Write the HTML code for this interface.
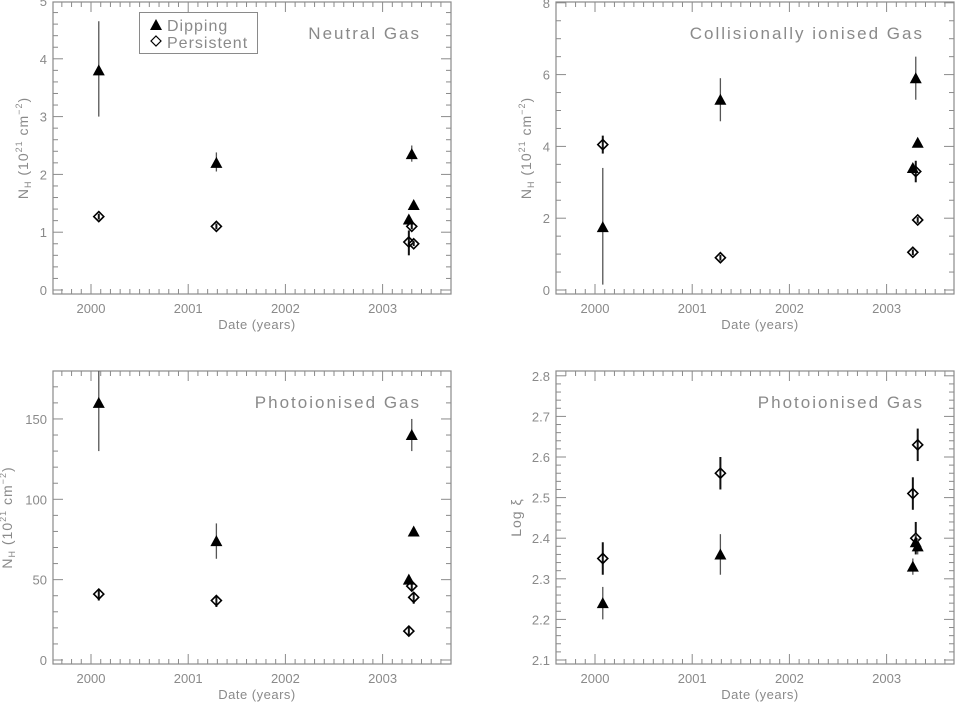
<!DOCTYPE html>
<html><head><meta charset="utf-8"><style>
html,body{margin:0;padding:0;background:#fff;}
svg{display:block;font-family:"Liberation Sans",sans-serif;}
</style></head><body>
<svg id="fig" width="955" height="703" viewBox="0 0 955 703"></svg>
<script>
const xDates = [2000.08, 2001.29, 2003.27, 2003.30, 2003.32];
const p1Dip = [3.8, 2.2, 1.22, 2.35, 1.47];
const p1DipLo = [3.0, 2.05, 1.22, 2.22, 1.47];
const p1DipHi = [4.65, 2.38, 1.22, 2.5, 1.47];
const p1Per = [1.27, 1.1, 0.83, 1.1, 0.8];
const p1PerLo = [1.22, 1.05, 0.6, 1.05, 0.76];
const p1PerHi = [1.32, 1.15, 1.03, 1.15, 0.84];
const p2Dip = [1.75, 5.3, 3.4, 5.9, 4.1];
const p2DipLo = [0.15, 4.7, 3.3, 5.3, 4.0];
const p2DipHi = [3.4, 5.9, 3.5, 6.5, 4.2];
const p2Per = [4.05, 0.9, 1.05, 3.3, 1.95];
const p2PerLo = [3.8, 0.82, 0.97, 3.0, 1.87];
const p2PerHi = [4.3, 0.98, 1.13, 3.6, 2.03];
const p3Dip = [160, 74, 50, 140, 80];
const p3DipLo = [130, 63, 47, 130, 78];
const p3DipHi = [185, 85, 53, 150, 82];
const p3Per = [41, 37, 18, 46, 39];
const p3PerLo = [37, 33, 15, 43, 35];
const p3PerHi = [44, 40, 21, 49, 42];
const p4Dip = [2.24, 2.36, 2.33, 2.39, 2.38];
const p4DipLo = [2.2, 2.31, 2.31, 2.37, 2.36];
const p4DipHi = [2.28, 2.41, 2.35, 2.41, 2.40];
const p4Per = [2.35, 2.56, 2.51, 2.40, 2.63];
const p4PerLo = [2.31, 2.52, 2.47, 2.36, 2.59];
const p4PerHi = [2.39, 2.60, 2.55, 2.44, 2.67];
const xTickLabels = ["2000", "2001", "2002", "2003"];
const p1YTicks = ["0", "1", "2", "3", "4", "5"];
const p2YTicks = ["0", "2", "4", "6", "8"];
const p3YTicks = ["0", "50", "100", "150"];
const p4YTicks = ["2.1", "2.2", "2.3", "2.4", "2.5", "2.6", "2.7", "2.8"];

const NS = "http://www.w3.org/2000/svg";
const svg = document.getElementById('fig');
const AX = "#8a8a8a";
function mk(tag, attrs, parent) {
  const e = document.createElementNS(NS, tag);
  for (const k in attrs) e.setAttribute(k, attrs[k]);
  (parent || svg).appendChild(e);
  return e;
}
function panel(cfg) {
  const g = mk('g', {});
  
  
  const L = cfg.L, R = cfg.R, T = cfg.T, B = cfg.B;
  const xs = v => cfg.x2000 + (v - 2000) * 97.2;
  const ys = v => cfg.y0 + (v - cfg.v0) * cfg.k;
  const frame = mk('rect', {x: L, y: T, width: R - L, height: B - T, fill: 'none', stroke: AX, 'stroke-width': 1.2}, g);
  
  
  for (let i = -4; i <= 37; i++) {
    const v = 2000 + i / 10, x = xs(v);
    if (x <= L + 0.5 || x >= R - 0.5) continue;
    const len = i % 10 === 0 ? 10 : 5;
    mk('line', {x1: x, y1: B, x2: x, y2: B - len, stroke: AX, 'stroke-width': 1}, g);
    mk('line', {x1: x, y1: T, x2: x, y2: T + len, stroke: AX, 'stroke-width': 1}, g);
  }
  xTickLabels.forEach((t, i) => {
    const tx = mk('text', {x: xs(+t), y: B + 19, 'font-size': 13, fill: AX, 'text-anchor': 'middle'}, g);
    tx.textContent = t;
    
    
  });
  const nMaj = cfg.yt.length;
  for (let j = 0; j < nMaj; j++) {
    for (let m = 0; m < cfg.minor; m++) {
      const v = +cfg.yt[0] + (j + m / cfg.minor) * cfg.step;
      const y = ys(v);
      if (y < T + 0.5 || y > B - 0.5) continue;
      const len = m === 0 ? 10 : 5;
      mk('line', {x1: L, y1: y, x2: L + len, y2: y, stroke: AX, 'stroke-width': 1}, g);
      mk('line', {x1: R, y1: y, x2: R - len, y2: y, stroke: AX, 'stroke-width': 1}, g);
    }
    const yl = mk('text', {x: L - 6, y: ys(+cfg.yt[j]) + 5, 'font-size': 13, fill: AX, 'text-anchor': 'end'}, g);
    yl.textContent = cfg.yt[j];
    
    
  }
  const xt = mk('text', {x: (L + R) / 2 + 5, y: B + 35, 'font-size': 13, fill: AX, 'text-anchor': 'middle', 'letter-spacing': '0.5'}, g);
  xt.textContent = 'Date (years)';
  
  
  const ytg = mk('text', {transform: `translate(${cfg.ytx},${(T + B) / 2}) rotate(-90)`, 'font-size': 14, fill: AX, 'text-anchor': 'middle', 'letter-spacing': '1'}, g);
  
  
  if (cfg.logxi) {
    ytg.textContent = 'Log ξ';
  } else {
    ytg.innerHTML = 'N<tspan font-size="9" dy="3">H</tspan><tspan dy="-3"> (10</tspan><tspan font-size="9" dy="-6">21</tspan><tspan dy="6"> cm</tspan><tspan font-size="9" dy="-6">−2</tspan><tspan dy="6">)</tspan>';
  }
  const tt = mk('text', {x: R - 30, y: T + 37, 'font-size': 17, fill: AX, 'text-anchor': 'end', 'letter-spacing': '2'}, g);
  tt.textContent = cfg.title;
  
  
  function series(vals, lo, hi, kind) {
    vals.forEach((v, i) => {
      const x = xs(xDates[i]);
      if (hi[i] !== lo[i]) {
        const eb = mk('line', {x1: x, y1: Math.max(ys(hi[i]), T), x2: x, y2: ys(lo[i]), stroke: kind === 'dip' ? '#555' : '#111', 'stroke-width': kind === 'dip' ? 1.3 : 2}, g);
        
        
      }
      const y = ys(v);
      let m;
      if (kind === 'dip') {
        m = mk('polygon', {points: `${x},${y - 6} ${x - 6},${y + 5} ${x + 6},${y + 5}`, fill: '#000'}, g);
      } else {
        m = mk('polygon', {points: `${x},${y - 5} ${x + 5},${y} ${x},${y + 5} ${x - 5},${y}`, fill: 'none', stroke: '#000', 'stroke-width': 1.6}, g);
      }
      
      
    });
  }
  series(cfg.per, cfg.perLo, cfg.perHi, 'per');
  series(cfg.dip, cfg.dipLo, cfg.dipHi, 'dip');
  return g;
}
const g1 = panel({name: 'panel-neutral-gas', L: 53, R: 451, T: 2, B: 294, x2000: 91, y0: 290, v0: 0, k: -57.8, yt: p1YTicks, step: 1, minor: 5, ytx: 28, title: 'Neutral Gas', dip: p1Dip, dipLo: p1DipLo, dipHi: p1DipHi, per: p1Per, perLo: p1PerLo, perHi: p1PerHi});
const g2 = panel({name: 'panel-collisionally-ionised', L: 556, R: 954, T: 2, B: 294, x2000: 595, y0: 290, v0: 0, k: -35.9, yt: p2YTicks, step: 2, minor: 4, ytx: 531, title: 'Collisionally ionised Gas', dip: p2Dip, dipLo: p2DipLo, dipHi: p2DipHi, per: p2Per, perLo: p2PerLo, perHi: p2PerHi});
const g3 = panel({name: 'panel-photoionised-nh', L: 53, R: 451, T: 371, B: 664, x2000: 91, y0: 660, v0: 0, k: -1.607, yt: p3YTicks, step: 50, minor: 5, ytx: 12, title: 'Photoionised Gas', dip: p3Dip, dipLo: p3DipLo, dipHi: p3DipHi, per: p3Per, perLo: p3PerLo, perHi: p3PerHi});
const g4 = panel({name: 'panel-photoionised-xi', L: 556, R: 954, T: 371, B: 664, x2000: 595, y0: 660, v0: 2.1, k: -406, yt: p4YTicks, step: 0.1, minor: 5, ytx: 521, logxi: true, title: 'Photoionised Gas', dip: p4Dip, dipLo: p4DipLo, dipHi: p4DipHi, per: p4Per, perLo: p4PerLo, perHi: p4PerHi});
const lg = mk('g', {}, g1);


mk('rect', {x: 139.5, y: 12.5, width: 118, height: 41, fill: '#fff', stroke: AX, 'stroke-width': 1}, lg);
const l1 = mk('polygon', {points: '156,19 150,30 162,30', fill: '#000'}, lg);


const l2 = mk('polygon', {points: '156,36 161,41 156,46 151,41', fill: 'none', stroke: '#000', 'stroke-width': 1.2}, lg);


const t1 = mk('text', {x: 167, y: 31, 'font-size': 16, fill: AX, 'letter-spacing': '1'}, lg);
t1.textContent = 'Dipping';


const t2 = mk('text', {x: 167, y: 48, 'font-size': 16, fill: AX, 'letter-spacing': '1'}, lg);
t2.textContent = 'Persistent';


</script>
</body></html>
